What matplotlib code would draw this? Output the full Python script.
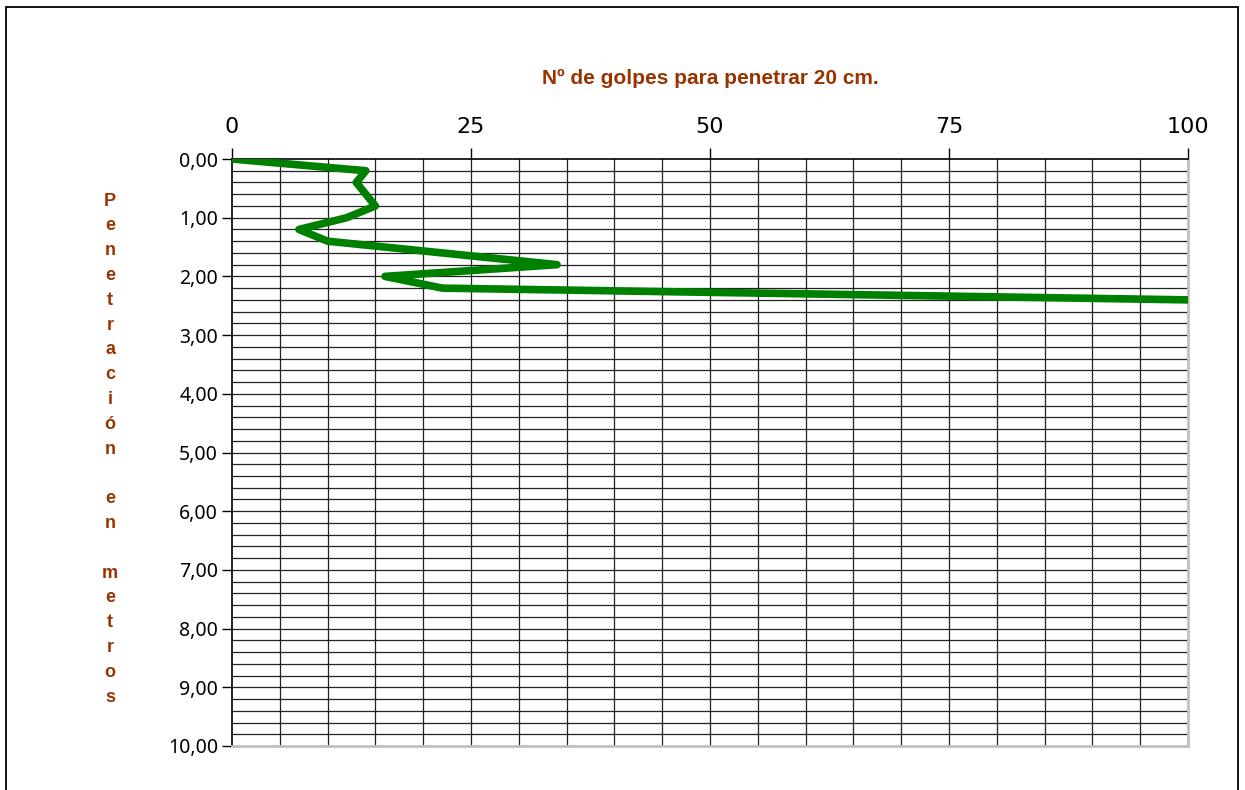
import matplotlib
matplotlib.use("Agg")
import matplotlib.pyplot as plt
from matplotlib.patches import Rectangle
from matplotlib.ticker import FuncFormatter
import numpy as np

# Data
golpes = [0, 14, 13, 14, 15, 12, 7, 10, 34, 16, 22, 100]
profundidad = [0.0, 0.2, 0.4, 0.6, 0.8, 1.0, 1.2, 1.4, 1.8, 2.0, 2.2, 2.4]
x_ticks = [0, 25, 50, 75, 100]
y_ticks = [0, 1, 2, 3, 4, 5, 6, 7, 8, 9, 10]
title = "Nº de golpes para penetrar 20 cm."
ylabel = "Penetración en metros"

brown = "#993300"
W, H = 1245, 790
fig = plt.figure(figsize=(W / 100, H / 100), dpi=100)
ax = fig.add_axes([232 / W, 1 - 746 / H, (1188 - 232) / W, (746 - 159) / H])

ax.set_xlim(0, 100)
ax.set_ylim(10, 0)

# grid
for gx in np.arange(5, 100, 5):
    ax.axvline(gx, color="#222222", lw=0.9, zorder=1)
for gy in np.arange(0.2, 10, 0.2):
    ax.axhline(gy, color="#222222", lw=0.9, zorder=1)

ax.plot(golpes, profundidad, color="#008000", lw=5.5, solid_joinstyle="round",
        solid_capstyle="round", zorder=3, clip_on=True)

ax.xaxis.tick_top()
ax.set_xticks(x_ticks)
ax.set_xticklabels([str(v) for v in x_ticks], fontsize=16,
                   family=["Liberation Sans Narrow", "DejaVu Sans"])
ax.tick_params(axis="x", direction="out", length=8, width=1, color="black", pad=8)

ax.set_yticks(y_ticks)
ax.yaxis.set_major_formatter(FuncFormatter(lambda v, p: f"{v:.2f}".replace(".", ",")))
for lab in ax.get_yticklabels():
    lab.set_family(["Noto Sans", "DejaVu Sans"])
ax.tick_params(axis="y", direction="out", length=7, width=1, color="black",
               labelsize=14, pad=3)

for side in ["top", "left"]:
    ax.spines[side].set_color("black")
    ax.spines[side].set_linewidth(1.2)
for side in ["right", "bottom"]:
    ax.spines[side].set_color("#c0c0c0")
    ax.spines[side].set_linewidth(2)

# title
fig.text(710 / W, 1 - 78 / H, title, ha="center", va="center", fontsize=15,
         fontweight="bold", color=brown, family=["Liberation Sans", "DejaVu Sans"])

# vertical stacked y label
y0, step = 201, 24.8
for i, ch in enumerate(ylabel):
    if ch == " ":
        continue
    fig.text(110 / W, 1 - (y0 + i * step) / H, ch, ha="center", va="center",
             fontsize=13, fontweight="bold", color=brown,
             family=["Liberation Sans", "DejaVu Sans"])

# figure border
fig.patches.append(Rectangle((6 / W, -0.05), (1238 - 6) / W, 1.05 - 7 / H,
                             transform=fig.transFigure, fill=False,
                             edgecolor="black", lw=1.3))

fig.savefig("out.png", dpi=100)
